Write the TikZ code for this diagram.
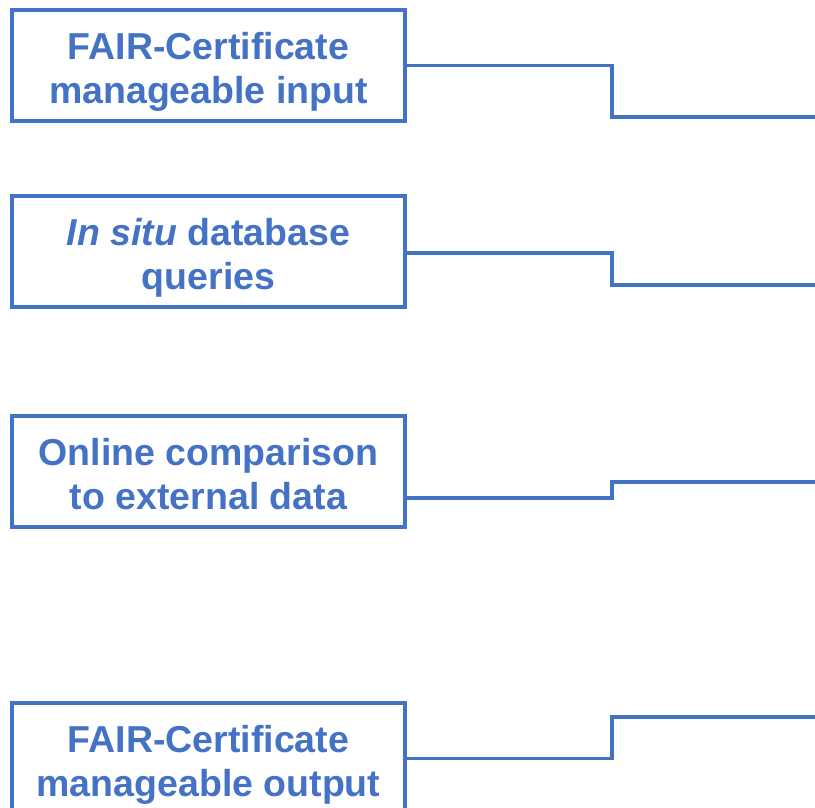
\documentclass[tikz,border=0pt]{standalone}
\usepackage{fontspec}
\setmainfont{Liberation Sans}
\definecolor{boxblue}{HTML}{4472C4}
\begin{document}
\begin{tikzpicture}[x=1pt, y=1pt,
  stage/.style={rectangle, draw=boxblue, line width=3.8pt, fill=white,
    minimum width=393pt, minimum height=111pt, outer sep=0pt, align=center,
    text=boxblue, font=\fontsize{37.5}{44}\selectfont\bfseries,
    text height=86pt, text depth=10pt},
  link/.style={draw=boxblue, line width=3.4pt}]
\useasboundingbox (0,0) rectangle (815,808);
\node[stage] (in) at (208.5,742.5) {FAIR-Certificate\\manageable input};
\node[stage] (qry) at (208.5,556.5) {\textit{In situ} database\\queries};
\node[stage] (cmp) at (208.5,336.5) {Online comparison\\to external data};
\node[stage] (out) at (208.5,49.5) {FAIR-Certificate\\manageable output};
\coordinate (e1) at (817,691);
\coordinate (e2) at (817,523);
\coordinate (e3) at (817,326);
\coordinate (e4) at (817,91);
\draw[link] (in.east) -- ++(207,0) |- (e1);
\draw[link] ([yshift=-1.5pt]qry.east) -- ++(207,0) |- (e2);
\draw[link] ([yshift=-26.5pt]cmp.east) -- ++(207,0) |- (e3);
\draw[link] (out.east) -- ++(207,0) |- (e4);
\end{tikzpicture}
\end{document}
